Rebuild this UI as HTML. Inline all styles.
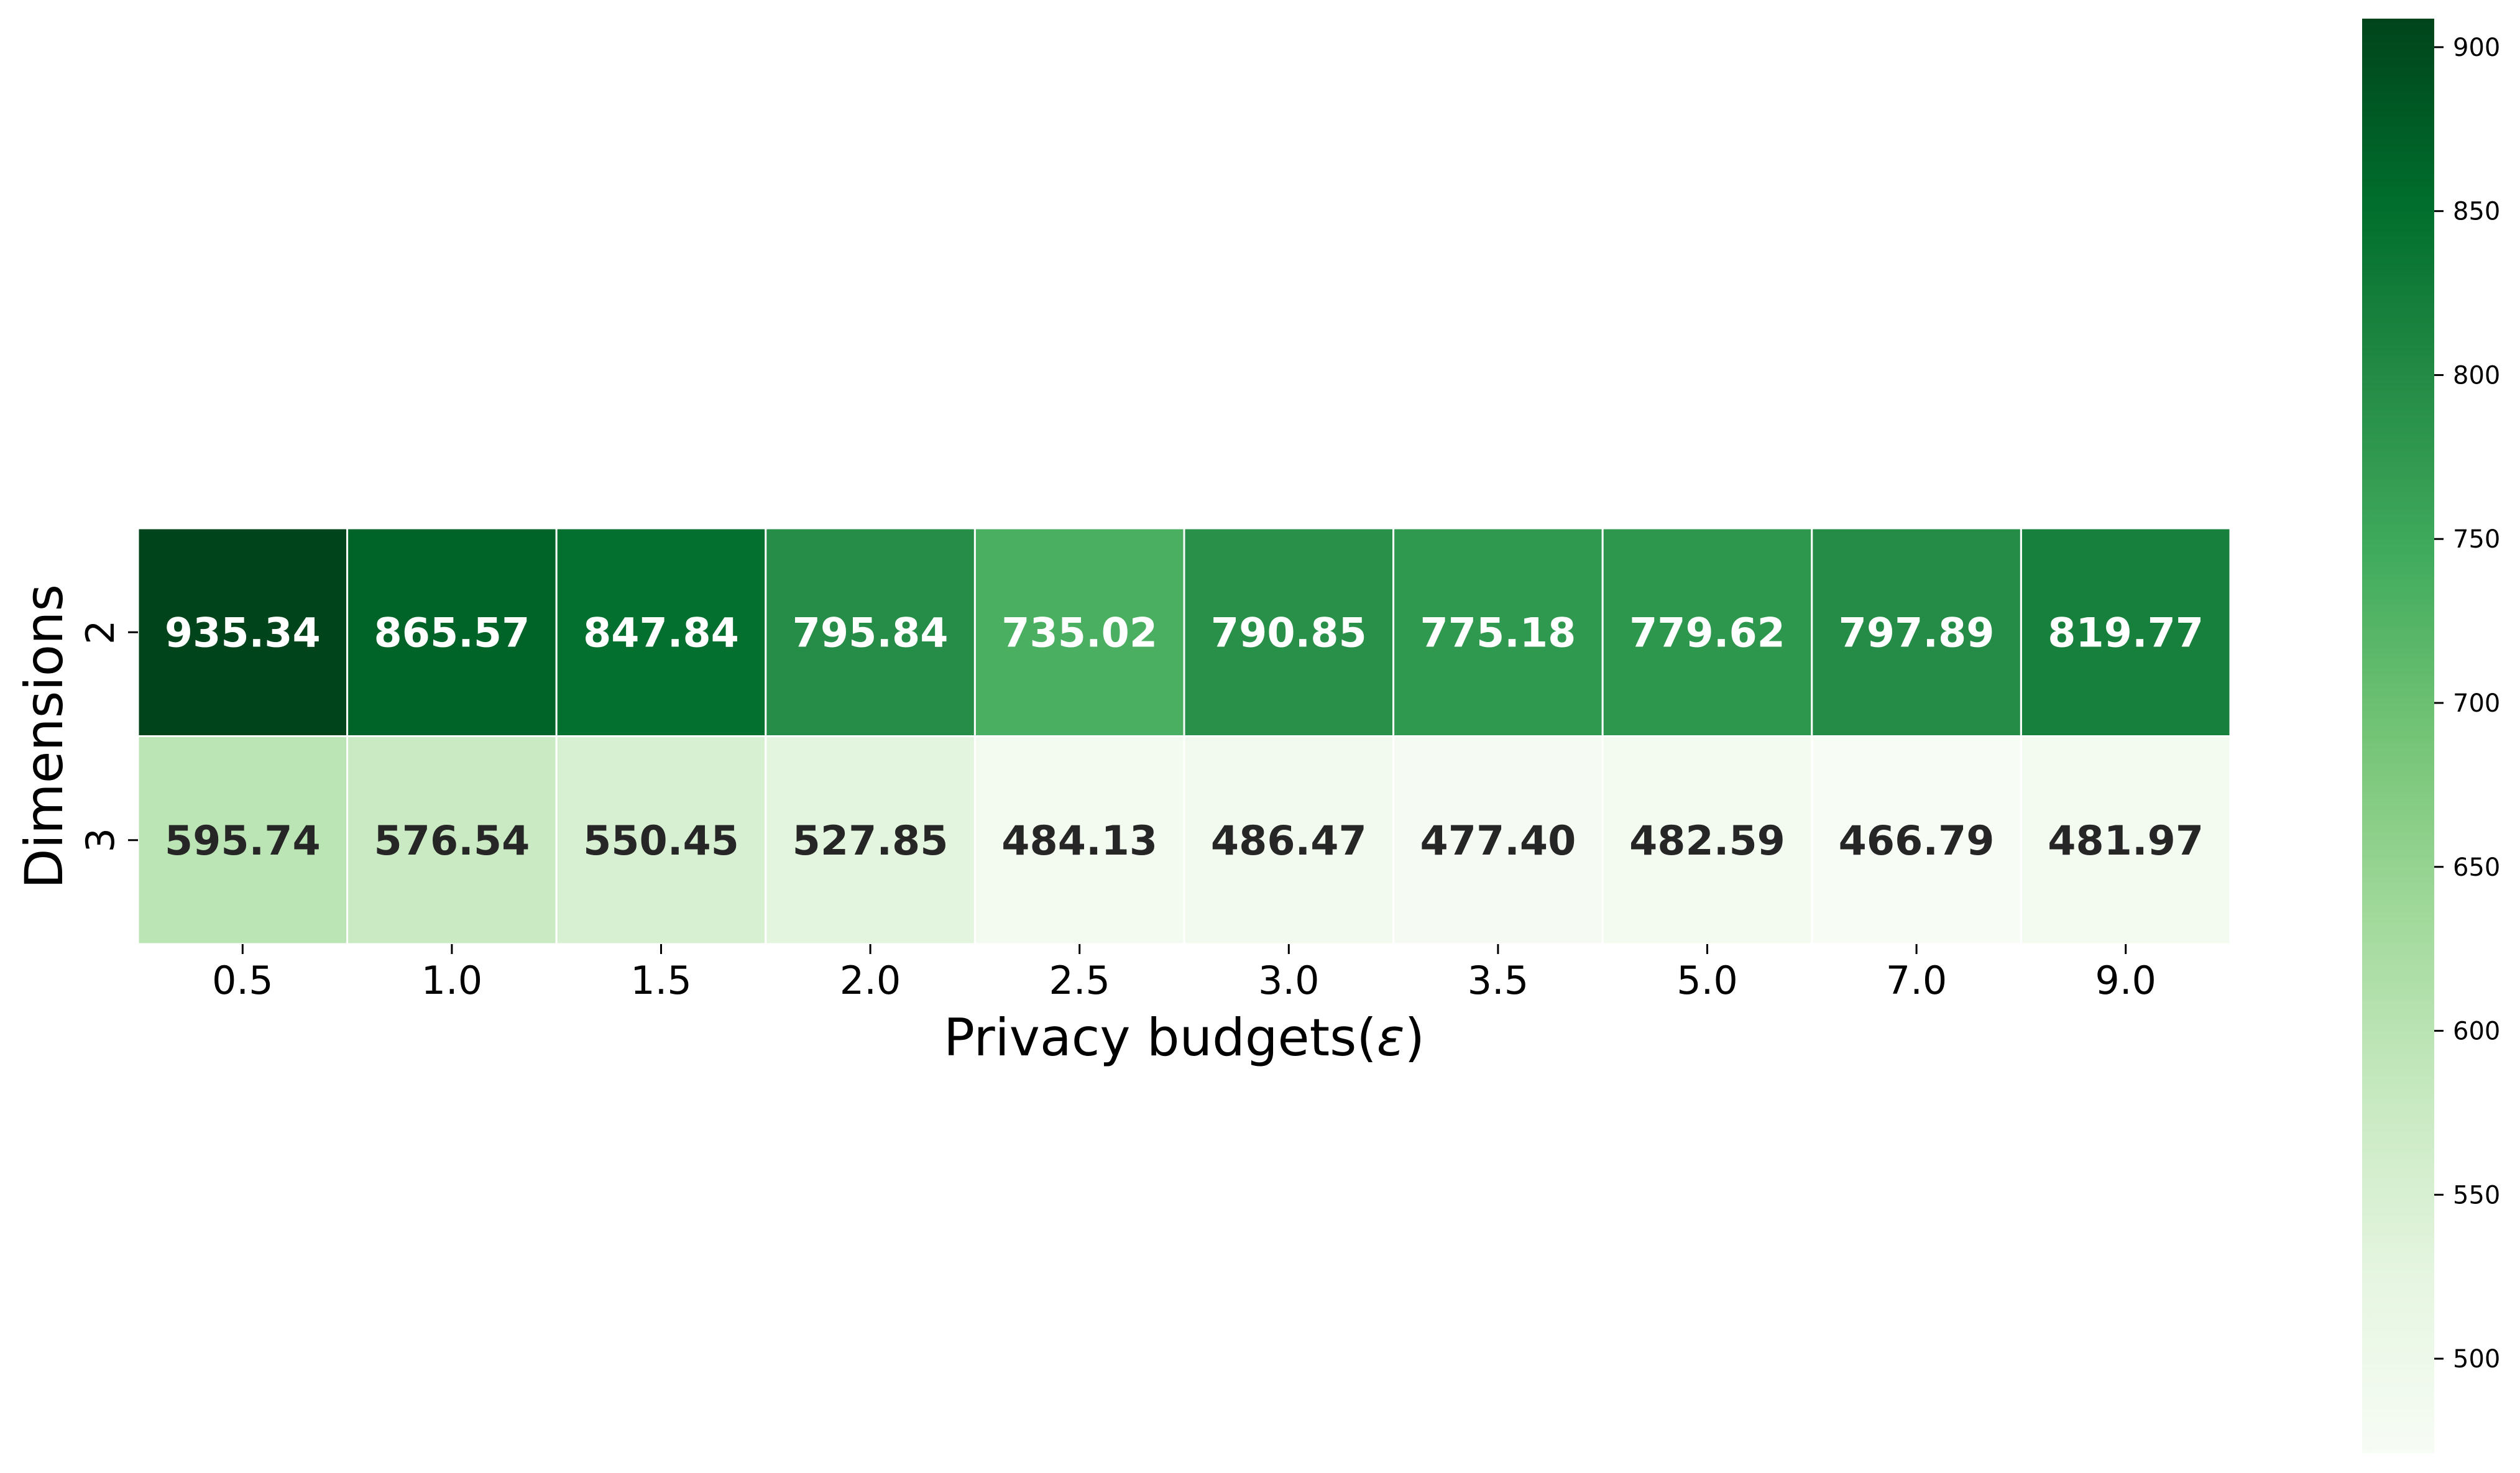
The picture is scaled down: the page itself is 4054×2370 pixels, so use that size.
<!DOCTYPE html>
<html><head><meta charset="utf-8">
<style>
html,body{margin:0;padding:0;background:#fff;}
svg{display:block;font-family:"DejaVu Sans","Liberation Sans",sans-serif;}
</style></head>
<body>
<svg id="chart" width="4054" height="2370" viewBox="0 0 4054 2370" xmlns="http://www.w3.org/2000/svg">
<defs>
<linearGradient id="cbgrad" x1="0" y1="1" x2="0" y2="0">
<stop offset="0" stop-color="#f7fcf5"/><stop offset="0.125" stop-color="#e5f5e0"/><stop offset="0.25" stop-color="#c7e9c0"/><stop offset="0.375" stop-color="#a1d99b"/><stop offset="0.5" stop-color="#74c476"/><stop offset="0.625" stop-color="#41ab5d"/><stop offset="0.75" stop-color="#238b45"/><stop offset="0.875" stop-color="#006d2c"/><stop offset="1" stop-color="#00441b"/>
</linearGradient>
</defs>
<g id="cells"></g>
<g id="axes"></g>
<text x="1905" y="1698" font-size="83" text-anchor="middle" fill="#000">Privacy budgets(<tspan font-style="italic">ε</tspan>)</text>
<text transform="translate(100,1185) rotate(-90)" font-size="84" text-anchor="middle" fill="#000">Dimensions</text>
<rect x="3800" y="30" width="116" height="2308" fill="url(#cbgrad)"/>
<g id="cbticks"></g>
</svg>
<script>
const xCategories = ["0.5","1.0","1.5","2.0","2.5","3.0","3.5","5.0","7.0","9.0"];
const yCategories = ["2","3"];
const row2Values = [935.34,865.57,847.84,795.84,735.02,790.85,775.18,779.62,797.89,819.77];
const row3Values = [595.74,576.54,550.45,527.85,484.13,486.47,477.40,482.59,466.79,481.97];
const cbTicks = [500,550,600,650,700,750,800,850,900];
const vmin = 471.2, vmax = 908.7;

const NS = "http://www.w3.org/2000/svg";
const X0 = 222, X1 = 3588, Y0 = 850, Y1 = 1519;
const CB_TOP = 30, CB_BOT = 2338;
const cw = (X1 - X0) / xCategories.length;
const ch = (Y1 - Y0) / yCategories.length;
function xPos(i){ return X0 + i * cw; }
function yPos(j){ return Y0 + j * ch; }
function cbY(v){ return CB_BOT - (v - vmin) / (vmax - vmin) * (CB_BOT - CB_TOP); }

const stops = ["#f7fcf5","#e5f5e0","#c7e9c0","#a1d99b","#74c476","#41ab5d","#238b45","#006d2c","#00441b"].map(h=>[parseInt(h.slice(1,3),16),parseInt(h.slice(3,5),16),parseInt(h.slice(5,7),16)]);
function lin(c){ c = c/255; return c <= 0.03928 ? c/12.92 : Math.pow((c+0.055)/1.055, 2.4); }
function color(v){
  let t = Math.max(0, Math.min(1, (v - vmin) / (vmax - vmin)));
  const p = t * (stops.length - 1), k = Math.min(stops.length - 2, Math.floor(p)), f = p - k;
  const c = stops[k].map((a, n) => Math.round(a + (stops[k+1][n] - a) * f));
  return {str: "rgb(" + c.join(",") + ")", lum: 0.2126*lin(c[0]) + 0.7152*lin(c[1]) + 0.0722*lin(c[2])};
}
function el(tag, attrs, parent){ const e = document.createElementNS(NS, tag); for (const k in attrs) e.setAttribute(k, attrs[k]); parent.appendChild(e); return e; }

const cells = document.getElementById("cells");
const axes = document.getElementById("axes");
const rows = [row2Values, row3Values];
rows.forEach((vals, j) => {
  vals.forEach((v, i) => {
    const c = color(v);
    const r = el("rect", {x: xPos(i), y: yPos(j), width: cw, height: ch, fill: c.str, stroke: "#fff", "stroke-width": 3}, cells);
    
    
    const t = el("text", {x: xPos(i) + cw/2, y: yPos(j) + ch/2 + 23, "font-size": 65, "font-weight": "bold", "text-anchor": "middle", fill: c.lum > 0.408 ? "#262626" : "#ffffff"}, cells);
    t.textContent = v.toFixed(2);
    
    
  });
});
xCategories.forEach((lab, i) => {
  const cx = xPos(i) + cw/2;
  const tk = el("line", {x1: cx, x2: cx, y1: Y1, y2: Y1 + 16, stroke: "#000", "stroke-width": 3}, axes);
  
  
  const t = el("text", {x: cx, y: 1599, "font-size": 62, "text-anchor": "middle", fill: "#000"}, axes);
  t.textContent = lab;
  
  
});
yCategories.forEach((lab, j) => {
  const cy = yPos(j) + ch/2;
  const tk = el("line", {x1: X0 - 16, x2: X0, y1: cy, y2: cy, stroke: "#000", "stroke-width": 3}, axes);
  
  
  const t = el("text", {transform: "translate(183," + cy + ") rotate(-90)", "font-size": 62, "text-anchor": "middle", fill: "#000"}, axes);
  t.textContent = lab;
  
  
});
const cbg = document.getElementById("cbticks");
cbTicks.forEach(v => {
  const y = cbY(v);
  const tk = el("line", {x1: 3916, x2: 3931, y1: y, y2: y, stroke: "#000", "stroke-width": 3}, cbg);
  
  
  const t = el("text", {x: 3946, y: y + 14, "font-size": 40, fill: "#000"}, cbg);
  t.textContent = v;
  
  
});
</script>
</body></html>
